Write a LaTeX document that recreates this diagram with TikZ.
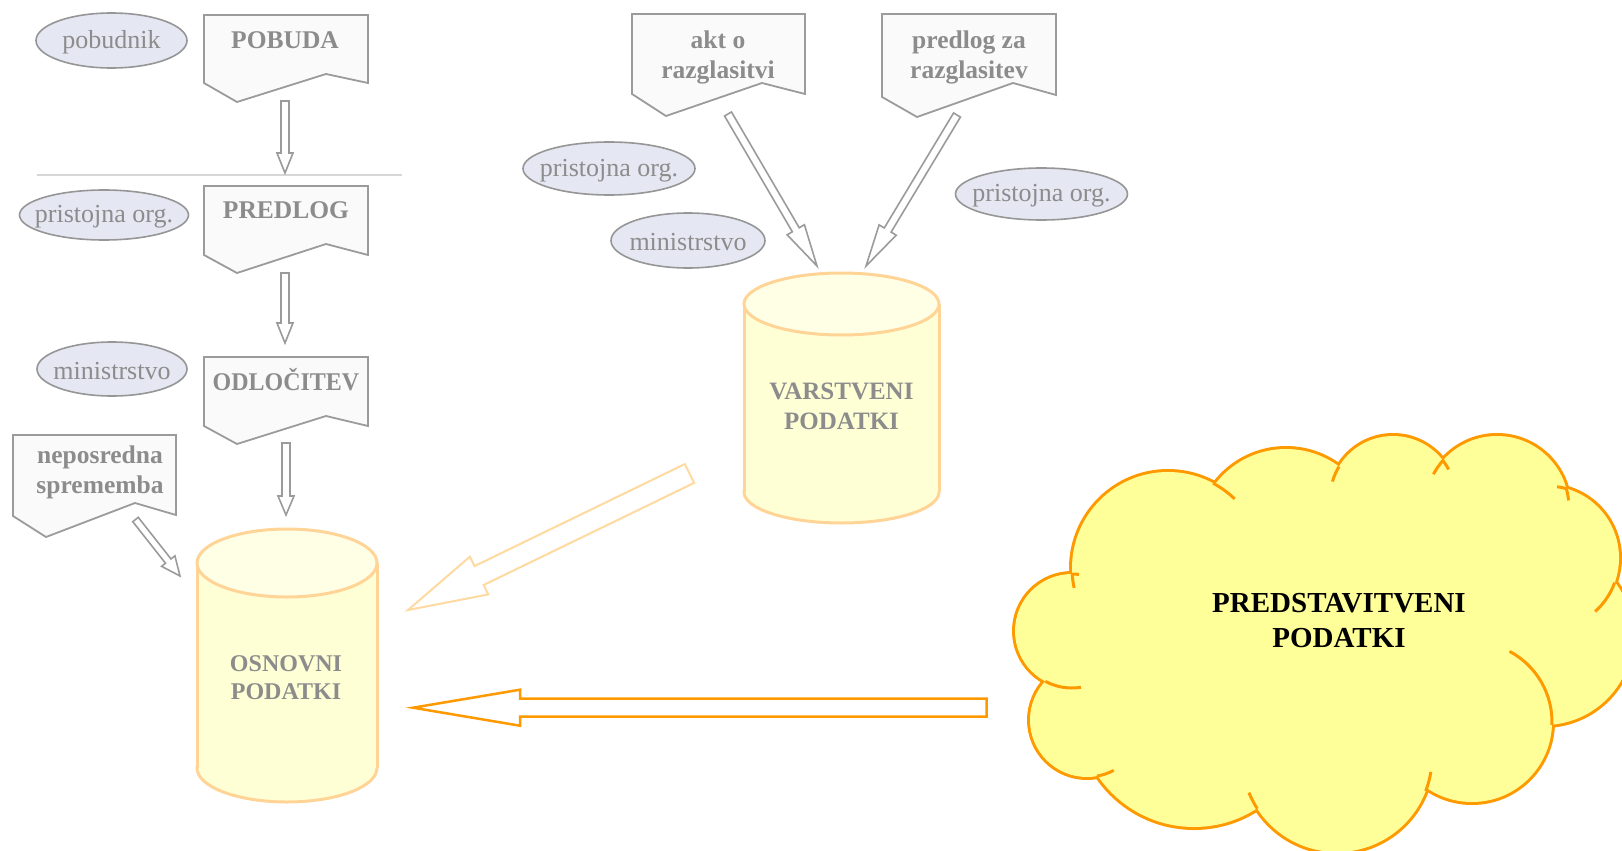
\documentclass[tikz,border=0pt]{standalone}
\usepackage{fontspec}
\setmainfont{Liberation Serif}
\usetikzlibrary{calc}
\definecolor{boxline}{RGB}{155,155,155}
\definecolor{boxfill}{RGB}{250,250,250}
\definecolor{graytext}{RGB}{140,140,140}
\definecolor{ellfill}{RGB}{229,231,242}
\definecolor{ellline}{RGB}{150,150,150}
\definecolor{cylline}{RGB}{255,212,150}
\definecolor{cylfill}{RGB}{255,255,213}
\definecolor{cyltop}{RGB}{255,255,230}
\definecolor{cloudline}{RGB}{255,153,0}
\definecolor{cloudfill}{RGB}{255,255,153}
\definecolor{lightorange}{RGB}{255,218,160}
\definecolor{divline}{RGB}{215,215,215}
% hollow block arrow: tail, tip, shaft half width, head half width, head length, style
\newcommand\hollowarrow[6]{%
  \path ($(#2)!#5!(#1)$) coordinate (hab);
  \draw[#6] ($(#1)!#3!90:(#2)$) -- ($(hab)!#3!90:(#2)$) -- ($(hab)!#4!90:(#2)$) -- (#2)
    -- ($(hab)!#4!-90:(#2)$) -- ($(hab)!#3!-90:(#2)$) -- ($(#1)!#3!-90:(#2)$) -- cycle;}
% cylinder: cx, rx, y top centre, y bottom centre, ry
\newcommand\cylshape[5]{%
  \fill[cylfill] (#1,#4) ellipse[x radius=#2, y radius=#5];
  \draw[cylline, line width=3pt] (#1,#4) ellipse[x radius=#2, y radius=#5];
  \fill[cylfill] (#1-#2,#3) rectangle (#1+#2,#4);
  \draw[cylline, line width=3pt] (#1-#2,#3) -- (#1-#2,#4) (#1+#2,#3) -- (#1+#2,#4);
  \draw[cylline, line width=3pt, fill=cyltop] (#1,#3) ellipse[x radius=#2, y radius=#5];}
% cloud tail: cx, cy, r, start, end
\newcommand\cloudtail[5]{%
  \draw[cloudline, line width=3pt] (#1,#2) ++(#4:#3) arc[start angle=#4, end angle=#5, radius=#3];}
% role ellipse: name, x, y, rx, ry, text
\newcommand\roleoval[6]{%
  \draw[roleshape] (#2,#3) ellipse[x radius=#4, y radius=#5];
  \node[rolelabel] (#1) at (#2,#3+2) {#6};}
\begin{document}
\begin{tikzpicture}[x=1pt,y=-1pt,
  docbox/.style={draw=boxline, fill=boxfill, line width=1.8pt, line join=miter},
  boxlabel/.style={text=graytext, font=\fontsize{25.5}{30}\selectfont\bfseries, align=center, inner sep=0pt},
  roleshape/.style={draw=ellline, fill=ellfill, line width=1.6pt},
  rolelabel/.style={inner sep=0pt, text=graytext, font=\fontsize{26}{30}\selectfont},
  cyllabel/.style={text=graytext, font=\fontsize{24}{28}\selectfont\bfseries, align=center, inner sep=0pt},
  cloudlabel/.style={text=black, font=\fontsize{29}{35}\selectfont\bfseries, align=center, inner sep=0pt},
  grayarrow/.style={draw=boxline, fill=white, line width=1.6pt, line join=miter},
  lightarrow/.style={draw=lightorange, fill=white, line width=2pt, line join=miter},
  orangearrow/.style={draw=cloudline, fill=white, line width=2.5pt, line join=miter}]
\useasboundingbox (0,0) rectangle (1622,851);
\clip (0,0) rectangle (1622,851);

% ---------- left column boxes ----------
\draw[docbox] (204,15) -- (368,15) -- (368,83) -- (326,74) -- (237,102) -- (204,83) -- cycle;
\node[boxlabel] (pobuda) at (285,40) {POBUDA};
\draw[docbox] (204,186) -- (368,186) -- (368,255) -- (326,244) -- (237,273) -- (204,255) -- cycle;
\node[boxlabel] (predlog) at (286,210) {PREDLOG};
\draw[docbox] (204,357) -- (368,357) -- (368,426) -- (326,416) -- (237,444) -- (204,426) -- cycle;
\node[boxlabel] (odlocitev) at (286,380) {\scalebox{0.94}[1]{ODLOČITEV}};
\draw[docbox] (13,435) -- (176,435) -- (176,515) -- (135,503) -- (46,537) -- (13,516) -- cycle;
\node[boxlabel] (neposredna) at (100,472) {neposredna\\sprememba};

% ---------- top middle boxes ----------
\draw[docbox] (632,14) -- (805,14) -- (805,94) -- (762,83) -- (666,116) -- (632,94) -- cycle;
\node[boxlabel] (akt) at (718,57) {akt o\\razglasitvi};
\draw[docbox] (882,14) -- (1056,14) -- (1056,95) -- (1013,83) -- (917,117) -- (882,97) -- cycle;
\node[boxlabel] (predlogza) at (969,57) {predlog za\\razglasitev};

% ---------- divider ----------
\draw[divline, line width=1.5pt] (37,175) -- (402,175);

% ---------- role ellipses ----------
\roleoval{pobudnik}{111.5}{40.5}{75.5}{27.5}{pobudnik}
\roleoval{pristojna1}{104}{215}{84.5}{25}{pristojna org.}
\roleoval{ministrstvo1}{112}{369}{75}{27}{ministrstvo}
\roleoval{pristojna2}{609}{168.5}{86}{26.5}{pristojna org.}
\roleoval{ministrstvo2}{688}{240.5}{77}{27.5}{ministrstvo}
\roleoval{pristojna3}{1041.5}{194}{86}{26}{pristojna org.}

% ---------- cylinders ----------
\cylshape{841.5}{97.5}{304}{492}{31}
\node[cyllabel, font=\fontsize{25}{30}\selectfont\bfseries] (varstveni) at (841.5,406) {VARSTVENI\\PODATKI};
\cylshape{287}{90}{563}{768}{34}
\node[cyllabel] (osnovni) at (286,678) {OSNOVNI\\PODATKI};

% ---------- cloud ----------
\def\cloudlist{1168/568/96,1072/631/57,1087/720/57,1194/711/116,1337/757/95,1472/722/80,1544/636/89,1547/558/72,1497/508/72,1393/499/63,1286/538/89}
\foreach \cx/\cy/\r in \cloudlist {\draw[cloudline, line width=6pt] (\cx,\cy) circle[radius=\r];}
\foreach \cx/\cy/\r in \cloudlist {\fill[cloudfill] (\cx,\cy) circle[radius=\r];}
\fill[cloudfill] (1168,568) -- (1286,538) -- (1393,499) -- (1497,508) -- (1547,558) -- (1544,636)
  -- (1472,722) -- (1337,757) -- (1194,711) -- (1087,720) -- (1072,631) -- cycle;
\cloudtail{1168}{568}{96}{177}{168}
\cloudtail{1168}{568}{96}{298}{314}
\cloudtail{1072}{631}{57}{118}{81}
\cloudtail{1072}{631}{57}{270}{277}
\cloudtail{1087}{720}{57}{80}{62}
\cloudtail{1337}{757}{95}{147}{158}
\cloudtail{1337}{757}{95}{21}{9}
\cloudtail{1472}{722}{80}{2}{-62}
\cloudtail{1547}{558}{72}{20}{48}
\cloudtail{1547}{558}{72}{286}{278}
\cloudtail{1497}{508}{72}{345}{354}
\cloudtail{1497}{508}{72}{222}{208}
\cloudtail{1393}{499}{63}{322}{332}
\cloudtail{1393}{499}{63}{211}{196}
\node[cloudlabel] (predstavitveni) at (1339,621) {PREDSTAVITVENI\\PODATKI};

% ---------- connector end points ----------
\coordinate (a1t) at (285,101);  \coordinate (a1h) at (285,173);
\coordinate (a2t) at (285,273);  \coordinate (a2h) at (285,343);
\coordinate (a3t) at (286,443);  \coordinate (a3h) at (286,515);
\coordinate (a4t) at (135.5,519.5); \coordinate (a4h) at (180,576);
\coordinate (a5t) at (728,114);  \coordinate (a5h) at (817,266);
\coordinate (a6t) at (957,115);  \coordinate (a6h) at (866,266);
\coordinate (a7t) at (689.5,473.5); \coordinate (a7h) at (408,610);
\coordinate (a8t) at (986.5,707.7); \coordinate (a8h) at (413,707.7);

% ---------- connectors ----------
\hollowarrow{a1t}{a1h}{4pt}{8pt}{20pt}{grayarrow}
\hollowarrow{a2t}{a2h}{4pt}{8pt}{20pt}{grayarrow}
\hollowarrow{a3t}{a3h}{4pt}{8pt}{19pt}{grayarrow}
\hollowarrow{a4t}{a4h}{3.5pt}{8.5pt}{19pt}{grayarrow}
\hollowarrow{a5t}{a5h}{4pt}{10pt}{42pt}{grayarrow}
\hollowarrow{a6t}{a6h}{4pt}{10pt}{42pt}{grayarrow}
\hollowarrow{a7t}{a7h}{10.5pt}{21pt}{79pt}{lightarrow}
\hollowarrow{a8t}{a8h}{9pt}{18pt}{107pt}{orangearrow}
\end{tikzpicture}
\end{document}
